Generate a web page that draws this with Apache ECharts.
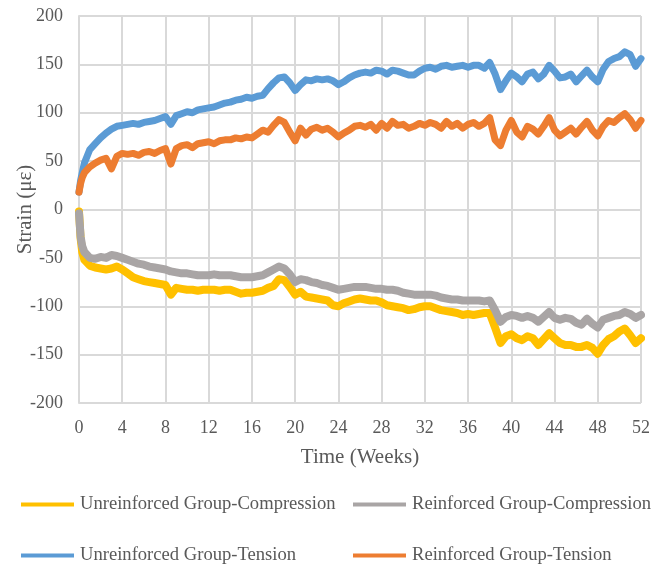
<!DOCTYPE html>
<html>
<head>
<meta charset="utf-8">
<script src="https://cdn.jsdelivr.net/npm/echarts@6/dist/echarts.min.js"></script>
<style>
  html, body { margin: 0; padding: 0; background: #fff; }
  #chart { width: 669px; height: 567px; }
</style>
</head>
<body>
<div id="chart"></div>
<script>
// Sampling times (weeks) shared by all four gauges
const weeks = [0, 0.15, 0.3,
  0.5, 1, 1.5, 2, 2.5, 3, 3.5, 4, 4.5, 5, 5.5, 6, 6.5, 7, 7.5, 8, 8.5, 9, 9.5, 10,
  10.5, 11, 11.5, 12, 12.5, 13, 13.5, 14, 14.5, 15, 15.5, 16, 16.5, 17, 17.5, 18, 18.5, 19, 19.5, 20,
  20.5, 21, 21.5, 22, 22.5, 23, 23.5, 24, 24.5, 25, 25.5, 26, 26.5, 27, 27.5, 28, 28.5, 29, 29.5, 30,
  30.5, 31, 31.5, 32, 32.5, 33, 33.5, 34, 34.5, 35, 35.5, 36, 36.5, 37, 37.5, 38, 38.5, 39, 39.5, 40,
  40.5, 41, 41.5, 42, 42.5, 43, 43.5, 44, 44.5, 45, 45.5, 46, 46.5, 47, 47.5, 48, 48.5, 49, 49.5, 50,
  50.5, 51, 51.5, 52];

// Strain readings (microstrain)
const unreinforcedCompression = [-2, -30, -44,
  -52, -58, -60, -61, -62, -61, -59, -62, -66, -70, -72, -74, -75, -76, -77, -78, -88, -81, -82, -83,
  -83, -84, -83, -83, -83, -84, -83, -83, -85, -87, -86, -86, -85, -84, -81, -79, -72, -73, -80, -88,
  -85, -90, -91, -92, -93, -94, -99, -100, -97, -95, -93, -92, -93, -94, -94, -96, -99, -100, -101, -102,
  -104, -103, -101, -100, -100, -102, -104, -105, -106, -107, -109, -108, -109, -108, -107, -107, -122, -138, -131, -129,
  -133, -135, -131, -133, -140, -134, -128, -133, -138, -140, -140, -142, -142, -140, -143, -149, -140, -134, -131, -126,
  -123, -130, -138, -133];

const reinforcedCompression = [-4, -28, -38,
  -44, -50, -51, -49, -50, -47, -48, -50, -52, -54, -56, -57, -59, -60, -61, -62, -64, -65, -66, -66,
  -67, -68, -68, -68, -67, -68, -68, -68, -69, -70, -70, -70, -69, -68, -65, -62, -59, -61, -67, -75,
  -72, -73, -75, -76, -78, -79, -81, -83, -82, -81, -80, -80, -80, -81, -82, -82, -83, -83, -84, -86,
  -87, -88, -88, -88, -88, -89, -91, -92, -93, -93, -94, -94, -94, -94, -95, -94, -104, -116, -111, -109,
  -110, -112, -110, -112, -116, -111, -106, -112, -114, -112, -113, -117, -119, -113, -118, -122, -114, -112, -110, -109,
  -106, -108, -112, -109];

const unreinforcedTension = [18, 30, 38,
  48, 62, 68, 74, 79, 83, 86, 87, 88, 89, 88, 90, 91, 92, 94, 96, 88, 97, 99, 101,
  100, 103, 104, 105, 106, 108, 110, 111, 113, 114, 116, 115, 117, 118, 125, 131, 136, 137, 131, 123,
  129, 134, 133, 135, 134, 135, 133, 129, 132, 136, 139, 141, 142, 141, 144, 143, 140, 144, 143, 141,
  139, 139, 143, 146, 147, 145, 148, 149, 147, 148, 149, 147, 149, 149, 146, 152, 140, 124, 133, 141,
  137, 132, 140, 142, 135, 140, 149, 143, 136, 137, 140, 132, 138, 144, 137, 132, 145, 153, 156, 158,
  163, 160, 148, 156];

const reinforcedTension = [18, 27, 33,
  38, 44, 48, 51, 53, 42, 55, 58, 57, 58, 56, 59, 60, 58, 61, 63, 47, 63, 66, 67,
  64, 68, 69, 70, 68, 71, 72, 72, 74, 73, 75, 74, 78, 82, 80, 87, 93, 90, 80, 71,
  84, 77, 83, 85, 82, 84, 80, 75, 79, 82, 86, 87, 85, 88, 82, 89, 84, 91, 87, 88,
  84, 86, 89, 87, 90, 88, 84, 91, 86, 89, 84, 88, 90, 86, 89, 95, 72, 66, 82, 92,
  80, 75, 86, 83, 78, 86, 95, 82, 76, 80, 84, 78, 85, 91, 82, 76, 86, 92, 90, 95,
  99, 93, 84, 92];

const seriesNames = [
  'Unreinforced Group-Compression',
  'Reinforced Group-Compression',
  'Unreinforced Group-Tension',
  'Reinforced Group-Tension'
];
const seriesValues = [unreinforcedCompression, reinforcedCompression, unreinforcedTension, reinforcedTension];
const seriesColors = ['#FFC000', '#A9A5A5', '#5B9BD5', '#ED7D31'];

const xTicks = { min: 0, max: 52, interval: 4 };
const yTicks = { min: -200, max: 200, interval: 50 };

const textGray = '#595959';
const fontFamily = '"Liberation Serif", "Times New Roman", serif';

function pairs(values) {
  return values.map((v, i) => [weeks[i], v]);
}

function legendAt(name, left, top) {
  return {
    data: [name],
    left: left, top: top,
    padding: 0,
    orient: 'horizontal',
    icon: 'rect',
    itemWidth: 53, itemHeight: 4,
    itemGap: 0,
    selectedMode: false,
    textStyle: { color: textGray, fontSize: 18.6, fontFamily: fontFamily, padding: [0, 0, 0, 1] }
  };
}

const chart = echarts.init(document.getElementById('chart'), null, { renderer: 'canvas' });
chart.setOption({
  animation: false,
  backgroundColor: '#fff',
  grid: { left: 79, right: 28, top: 16, bottom: 164, containLabel: false, outerBoundsMode: 'none' },
  xAxis: {
    type: 'value',
    min: xTicks.min, max: xTicks.max, interval: xTicks.interval,
    name: 'Time (Weeks)',
    nameLocation: 'middle',
    nameGap: 44,
    nameMoveOverlap: false,
    nameTextStyle: { color: textGray, fontSize: 21, fontFamily: fontFamily },
    axisLine: { show: true, lineStyle: { color: '#D9D9D9', width: 2 } },
    axisTick: { show: false },
    axisLabel: { color: textGray, fontSize: 18, fontFamily: fontFamily, margin: 16 },
    splitLine: { show: true, lineStyle: { color: '#D9D9D9', width: 2 } }
  },
  yAxis: {
    type: 'value',
    min: yTicks.min, max: yTicks.max, interval: yTicks.interval,
    name: 'Strain (με)',
    nameLocation: 'middle',
    nameGap: 43,
    nameMoveOverlap: false,
    nameTextStyle: { color: textGray, fontSize: 21, fontFamily: fontFamily },
    axisLine: { show: true, lineStyle: { color: '#D9D9D9', width: 2 } },
    axisTick: { show: false },
    axisLabel: { color: textGray, fontSize: 18, fontFamily: fontFamily, margin: 16 },
    splitLine: { show: true, lineStyle: { color: '#D9D9D9', width: 2 } }
  },
  legend: [
    legendAt(seriesNames[0], 21, 495),
    legendAt(seriesNames[1], 353, 495),
    legendAt(seriesNames[2], 21, 546),
    legendAt(seriesNames[3], 353, 546)
  ],
  series: seriesNames.map((name, i) => ({
    name: name,
    type: 'line',
    data: pairs(seriesValues[i]),
    showSymbol: false,
    symbol: 'none',
    color: seriesColors[i],
    lineStyle: { color: seriesColors[i], width: i < 2 ? 8 : 7, join: 'round', cap: 'round' },
    z: 2 + i
  }))
});
</script>
</body>
</html>
